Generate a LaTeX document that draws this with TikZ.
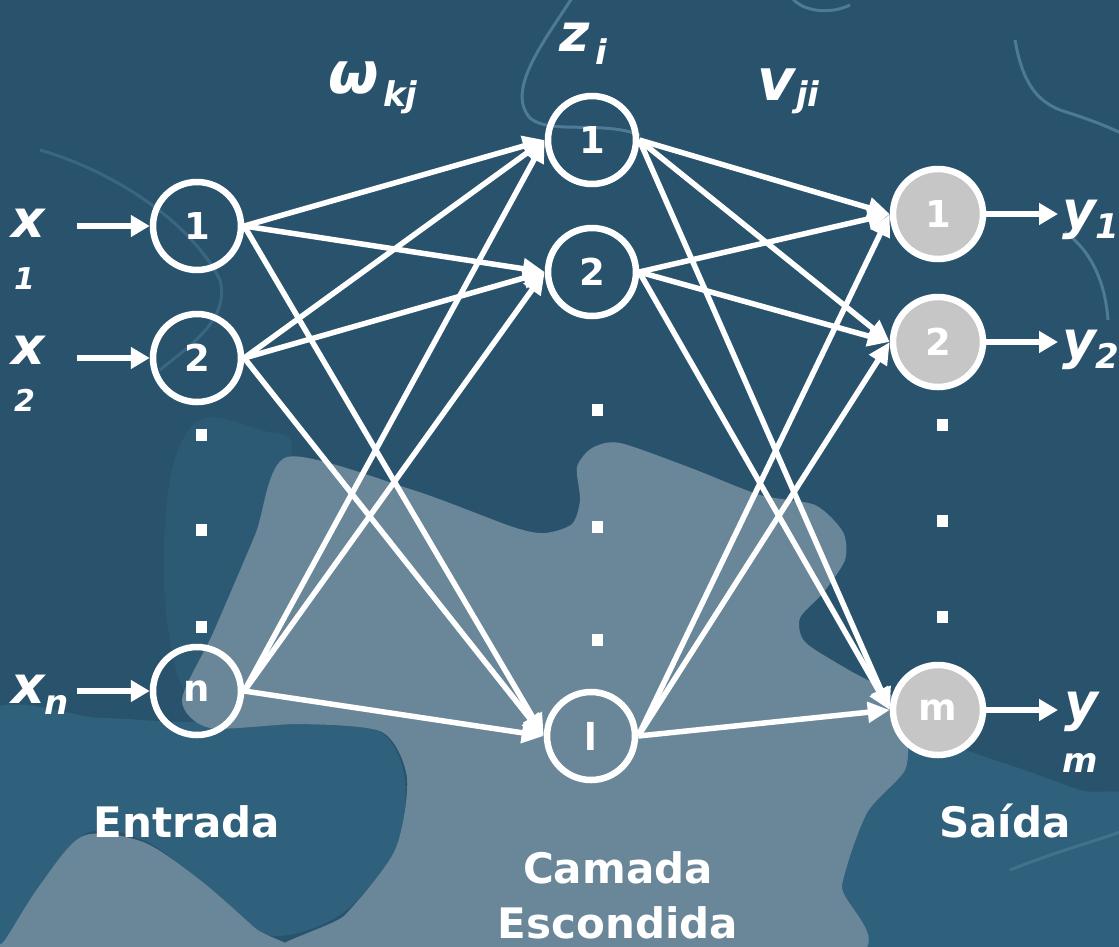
\documentclass[tikz,border=0pt]{standalone}
\usepackage{fontspec}
\setmainfont{DejaVu Sans}
\usetikzlibrary{arrows.meta}
\definecolor{bgdark}{HTML}{29536D}
\definecolor{bgmid}{HTML}{30617C}
\definecolor{bglight}{HTML}{6A8799}
\definecolor{bgline}{HTML}{5F8BA6}
\definecolor{outfill}{HTML}{C6C6C6}
\begin{document}
\begin{tikzpicture}[x=1pt,y=-1pt,
  neuron/.style={circle, draw=white, line width=6.5pt, minimum size=88pt, inner sep=0pt,
    font=\fontsize{37}{37}\selectfont\bfseries, text=white},
  outneuron/.style={neuron, fill=outfill, minimum size=90pt},
  conn/.style={draw=white, line width=5.5pt, -{Triangle[length=22pt,width=20pt]}},
  inarrow/.style={draw=white, line width=6.5pt, -{Triangle[length=19pt,width=21pt]}},
  lbl/.style={text=white, font=\fontsize{42}{42}\selectfont\bfseries, inner sep=0pt},
  var/.style={text=white, font=\fontsize{52}{52}\selectfont\bfseries\itshape, inner sep=0pt},
  bigvar/.style={var, font=\fontsize{58}{58}\selectfont\bfseries\itshape},
  subs/.style={text=white, font=\fontsize{34}{34}\selectfont\bfseries\itshape, inner sep=0pt},
  smallsubs/.style={subs, font=\fontsize{30}{30}\selectfont\bfseries\itshape},
  dotsq/.style={fill=white, minimum width=11pt, minimum height=12pt, inner sep=0pt},
  bgcurve/.style={draw=bgline, line width=3pt, opacity=0.7}
]
% ---------- background ----------
\useasboundingbox (0,0) rectangle (1119,946);
\begin{scope}
\clip (0,0) rectangle (1119,946);
\fill[bgdark] (0,0) rectangle (1119,946);
% mid-tone areas
\fill[bgmid, opacity=0.5] plot[smooth cycle, tension=0.6] coordinates {
  (200,420) (260,430) (292,448) (255,535) (213,633) (185,690) (165,600) (170,480)};
\fill[bgmid] plot[smooth cycle, tension=0.5] coordinates {
  (-20,720) (100,718) (180,722) (300,722) (380,732) (405,780) (395,850) (340,915) (267,935)
  (200,880) (143,840) (83,835) (20,920) (-20,960)};
\fill[bgmid] plot[smooth cycle, tension=0.5] coordinates {
  (913,741) (1000,762) (1080,790) (1140,806) (1140,960) (837,960) (840,885) (867,813)};
% light puzzle piece
\fill[bglight] plot[smooth cycle, tension=0.45] coordinates {
  (287,457) (413,490) (513,527) (545,533) (572,524) (580,500) (577,467) (592,448) (620,443)
  (691,468) (760,495) (815,505) (843,532) (845,560) (823,593) (800,618) (805,642)
  (847,669) (890,694) (906,730) (905,770) (867,813) (842,885) (838,960)
  (290,960) (345,915) (395,850) (407,778) (382,732) (300,724) (210,728) (182,700)
  (213,633) (255,535)};
\fill[bglight] plot[smooth cycle, tension=0.5] coordinates {
  (-20,975) (5,940) (40,885) (83,836) (143,842) (200,880) (255,928) (290,960)};
% faint puzzle outlines
\draw[bgcurve] (574,-5) .. controls (545,40) and (505,90) .. (530,118)
  .. controls (550,135) and (600,120) .. (640,135);
\draw[bgcurve] (790,-5) .. controls (800,12) and (830,15) .. (850,5);
\draw[bgcurve] (1015,40) .. controls (1022,80) and (1035,100) .. (1060,110)
  .. controls (1085,118) and (1105,125) .. (1125,135);
\draw[bgcurve] (1065,232) .. controls (1090,250) and (1105,280) .. (1108,320);
\draw[bgcurve, opacity=0.35] (40,150) .. controls (110,170) and (190,220) .. (220,280)
  .. controls (230,320) and (190,345) .. (160,370);
\draw[bgcurve, opacity=0.4] (1010,870) .. controls (1060,850) and (1100,840) .. (1125,830);
\end{scope}

% ---------- neurons ----------
\node[neuron] (i1) at (197,226) {1};
\node[neuron] (i2) at (197,358) {2};
\node[neuron] (in) at (197,691) {n};
\node[neuron] (h1) at (592,140) {1};
\node[neuron] (h2) at (592,272) {2};
\node[neuron] (hl) at (591,736) {l};
\node[outneuron] (o1) at (938,214) {1};
\node[outneuron] (o2) at (938,342) {2};
\node[outneuron] (om) at (938,710) {m};

% dots
\node[dotsq] (di1) at (201,435) {};
\node[dotsq] (di2) at (201,530) {};
\node[dotsq] (di3) at (201,627) {};
\node[dotsq] (dh1) at (597,410) {};
\node[dotsq] (dh2) at (597,527) {};
\node[dotsq] (dh3) at (597,640) {};
\node[dotsq] (do1) at (942,425) {};
\node[dotsq] (do2) at (942,521) {};
\node[dotsq] (do3) at (942,617) {};

% ---------- connections ----------
\foreach \a in {i1,i2,in}{
  \foreach \b in {h1,h2,hl}{
    \draw[conn] (\a.east) -- (\b.west);
  }
}
\foreach \a in {h1,h2,hl}{
  \foreach \b in {o1,o2,om}{
    \draw[conn] (\a.east) -- (\b.west);
  }
}

% input / output arrows
\coordinate (xs1) at (77,226);
\coordinate (xs2) at (77,358);
\coordinate (xsn) at (77,691);
\coordinate (ye1) at (1058,214);
\coordinate (ye2) at (1058,342);
\coordinate (yem) at (1058,710);
\draw[inarrow] (xs1) -- (i1.west);
\draw[inarrow] (xs2) -- (i2.west);
\draw[inarrow] (xsn) -- (in.west);
\draw[inarrow] (o1.east) -- (ye1);
\draw[inarrow] (o2.east) -- (ye2);
\draw[inarrow] (om.east) -- (yem);

% ---------- labels ----------
\node[var, anchor=base west] (lx1) at (11,237) {x};
\node[smallsubs, anchor=base west] (lx1s) at (14,289) {1};
\node[var, anchor=base west] (lx2) at (11,364) {x};
\node[smallsubs, anchor=base west] (lx2s) at (14,411) {2};
\node[var, anchor=base west] (lxn) at (11,703) {x};
\node[subs, anchor=base west] (lxns) at (44,714) {n};

\node[var, anchor=base west] (ly1) at (1062,228) {y};
\node[subs, anchor=base west] (ly1s) at (1095,238) {1};
\node[var, anchor=base west] (ly2) at (1062,358) {y};
\node[subs, anchor=base west] (ly2s) at (1095,368) {2};
\node[var, anchor=base west] (lym) at (1064,720) {y};
\node[subs, anchor=base west] (lyms) at (1062,772) {m};

\node[bigvar, anchor=base west] (lw) at (328,93) {ω};
\node[subs, anchor=base west] (lws) at (383,106) {kj};
\node[var, anchor=base west] (lz) at (559,51) {z};
\node[subs, anchor=base west] (lzs) at (595,64) {i};
\node[bigvar, anchor=base west] (lv) at (757,100) {v};
\node[subs, anchor=base west] (lvs) at (796,106) {ji};

\node[lbl, anchor=base] (entrada) at (187,837) {Entrada};
\node[lbl, anchor=base] (saida) at (1005,837) {Saída};
\node[lbl, anchor=base] (camada) at (618,883) {Camada};
\node[lbl, anchor=base] (escondida) at (618,938) {Escondida};
\end{tikzpicture}
\end{document}
